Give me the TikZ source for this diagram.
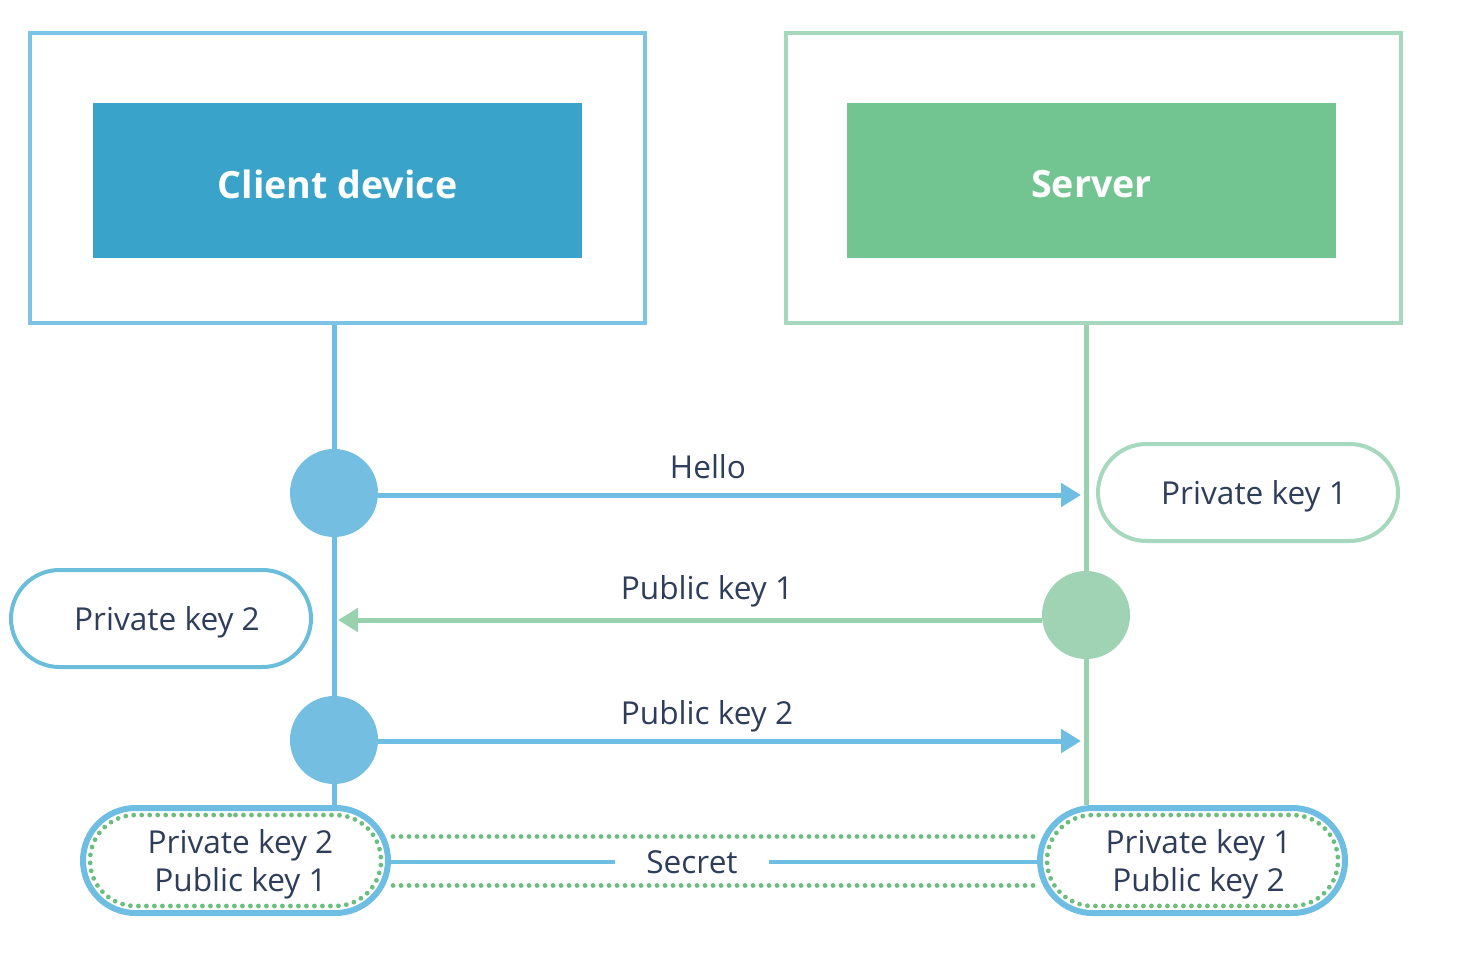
\documentclass[tikz,border=0pt]{standalone}
\usepackage{fontspec}
\setmainfont{Open Sans}
\usetikzlibrary{shapes.misc,arrows.meta,calc}
\definecolor{cstroke}{HTML}{7DC4E4}
\definecolor{cfill}{HTML}{39A3C9}
\definecolor{sfill}{HTML}{72C491}
\definecolor{sstroke}{HTML}{A5D8BC}
\definecolor{bline}{HTML}{6EBDE3}
\definecolor{bdot}{HTML}{74BEE2}
\definecolor{gdot}{HTML}{A0D3B3}
\definecolor{gline}{HTML}{99D0AE}
\definecolor{pblue}{HTML}{6BBEDA}
\definecolor{txt}{HTML}{2E3D5A}
\definecolor{dots}{HTML}{6DBE7E}
\begin{document}
\begin{tikzpicture}[x=0.5pt,y=-0.5pt,
  outerbox/.style={draw, line width=2pt, minimum width=307.5pt, minimum height=145pt, inner sep=0pt},
  innerbox/.style={minimum width=244.5pt, minimum height=77.5pt, inner sep=0pt},
  boxtext/.style={text=white, font=\bfseries\fontsize{18.8}{23}\selectfont, yshift=-2pt, inner sep=0pt},
  dotnode/.style={circle, minimum size=44pt, inner sep=0pt},
  pill/.style={rounded rectangle, draw, line width=2pt, minimum width=150pt, minimum height=48.5pt, inner sep=0pt, text depth=0pt, text=txt, font=\fontsize{15.8}{19}\selectfont},
  bigpill/.style={rounded rectangle, draw=bline, line width=3pt, minimum width=152.5pt, minimum height=52.5pt, inner sep=0pt, text depth=0pt, align=center, text=txt, font=\fontsize{15.8}{19}\selectfont},
  dotpill/.style={rounded rectangle, draw=dots, line width=2.4pt, dash pattern=on 0pt off 4pt, line cap=round, minimum width=145.5pt, minimum height=45.5pt, inner sep=0pt},
  lbl/.style={text=txt, font=\fontsize{15.8}{19}\selectfont, inner sep=0pt},
  life/.style={line width=2.5pt},
  msg/.style={line width=2.5pt, -{Triangle[length=10pt,width=11.5pt]}},
  dotline/.style={draw=dots, line width=2.4pt, dash pattern=on 0pt off 4pt, line cap=round}
]
\useasboundingbox (0,0) rectangle (1465,953);
% boxes
\node[outerbox, draw=cstroke] (clientbox) at (337.5,178) {};
\node[innerbox, fill=cfill, label={[boxtext]center:Client device}] (client) at (337.5,180.5) {};
\node[outerbox, draw=sstroke] (serverbox) at (1093,178) {};
\node[innerbox, fill=sfill, label={[boxtext]center:Server}] (server) at (1091.5,180.5) {};
% bottom pills
\node[bigpill] (bl) at (235.5,860.5) {\hspace*{5pt}Private key 2\\\hspace*{5pt}Public key 1};
\node[dotpill] (bli) at (bl.center) {};
\node[bigpill] (br) at (1192.5,860.5) {\hspace*{6pt}Private key 1\\\hspace*{6pt}Public key 2};
\node[dotpill] (bri) at (br.center) {};
% lifeline anchors
\coordinate (cl) at (334,493);
\coordinate (sl) at (1086,615);
% lifelines
\draw[life, bline] (cl |- clientbox.south) -- (cl |- bl.north);
\draw[life, gline] (sl |- serverbox.south) -- (sl |- br.north);
% dots
\node[dotnode, fill=bdot] (c1) at (334,493) {};
\node[dotnode, fill=gdot] (c2) at (1086,615) {};
\node[dotnode, fill=bdot] (c3) at (334,740) {};
% side pills
\node[pill, draw=sstroke] (pk1) at (1248,492.5) {\hspace*{6pt}Private key 1};
\node[pill, draw=pblue] (pk2) at (161,618.5) {\hspace*{6pt}Private key 2};
% messages
\coordinate (t1) at ($(c1 -| sl)+(-5,2)$);
\draw[msg, bline] ($(c1.east)+(0,2)$) -- (t1);
\node[lbl] (hello) at (708,467) {Hello};
\coordinate (t2) at ($(c2 -| cl)+(4,5)$);
\draw[msg, gline] ($(c2.west)+(0,5)$) -- (t2);
\node[lbl] (pub1) at (707,591) {Public key 1};
\coordinate (t3) at ($(c3 -| sl)+(-5,1)$);
\draw[msg, bline] ($(c3.east)+(0,1)$) -- (t3);
\node[lbl] (pub2) at (707,716) {Public key 2};
% secret
\node[lbl, minimum width=76.5pt] (secret) at (692,862) {Secret};
\draw[line width=2pt, bline] ($(bl.east)+(0,1.5)$) -- ($(secret.west)+(0,0)$);
\draw[line width=2pt, bline] (secret.east) -- ($(br.west)+(0,1.5)$);
\coordinate (d1a) at ($(bl.east)+(2,-24)$);
\coordinate (d1b) at ($(br.west)+(-2,-24)$);
\coordinate (d2a) at ($(bl.east)+(2,25)$);
\coordinate (d2b) at ($(br.west)+(-2,25)$);
\draw[dotline] (d1a) -- (d1b);
\draw[dotline] (d2a) -- (d2b);
\end{tikzpicture}
\end{document}
